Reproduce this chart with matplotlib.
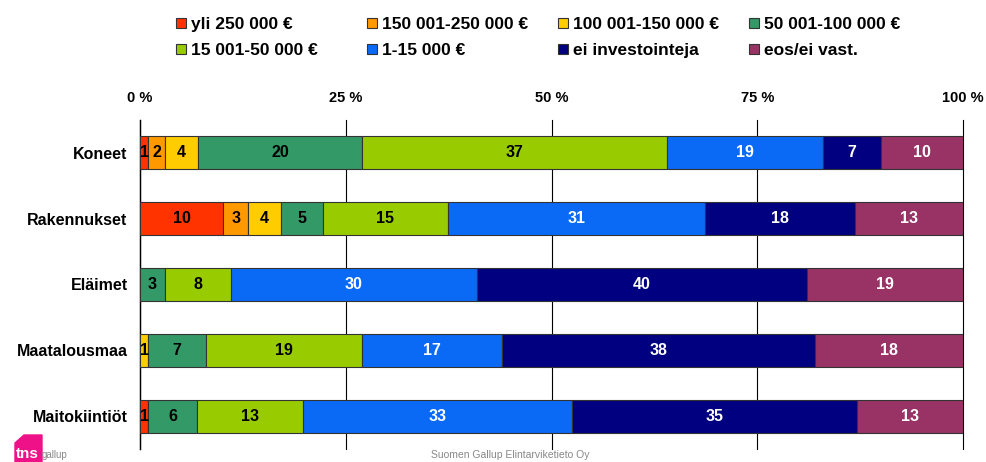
import numpy as np
import matplotlib
matplotlib.use('Agg')
import matplotlib.pyplot as plt
from matplotlib.patches import Rectangle, Polygon

plt.rcParams['font.family'] = ['Liberation Sans', 'DejaVu Sans']

# categories (top to bottom)
categories = ['Koneet', 'Rakennukset', 'Eläimet', 'Maatalousmaa', 'Maitokiintiöt']

# series
series = ['yli 250 000 €', '150 001-250 000 €', '100 001-150 000 €', '50 001-100 000 €',
          '15 001-50 000 €', '1-15 000 €', 'ei investointeja', 'eos/ei vast.']
colors = ['#FF3300', '#FF9900', '#FFCC00', '#339966',
          '#99CC00', '#0A6AF5', '#000080', '#993366']
text_colors = ['black'] * 5 + ['white'] * 3

# values per category, in series order (0 = not shown)
koneet = [1, 2, 4, 20, 37, 19, 7, 10]
rakennukset = [10, 3, 4, 5, 15, 31, 18, 13]
elaimet = [0, 0, 0, 3, 8, 30, 40, 19]
maatalousmaa = [0, 0, 1, 7, 19, 17, 38, 18]
maitokiintiot = [1, 0, 0, 6, 13, 33, 35, 13]

values = np.array([koneet, rakennukset, elaimet, maatalousmaa, maitokiintiot], dtype=float)
# 100 % stacked: scale each row to 100
shares = values / values.sum(axis=1, keepdims=True) * 100

W, H = 987, 462
fig = plt.figure(figsize=(W / 100, H / 100), dpi=100)
ax = fig.add_axes([140 / W, 1 - 449 / H, 823 / W, 329 / H])

y = np.arange(len(categories))
left = np.zeros(len(categories))
for j, name in enumerate(series):
    w = shares[:, j]
    ax.barh(y, w, left=left, height=0.5, color=colors[j], edgecolor='#333333',
            linewidth=0.8, label=name, zorder=3)
    for i in range(len(categories)):
        if values[i, j] > 0:
            ax.text(left[i] + w[i] / 2, y[i], '%d' % values[i, j], ha='center', va='center',
                    fontsize=11.5, fontweight='bold', color=text_colors[j], zorder=4)
    left += w

ax.set_xlim(0, 100)
ax.set_ylim(len(categories) - 0.5, -0.5)
ax.set_xticks([0, 25, 50, 75, 100])
ax.set_xticklabels(['0 %', '25 %', '50 %', '75 %', '100 %'], fontsize=10.5, fontweight='bold')
ax.xaxis.tick_top()
ax.tick_params(axis='x', length=0, pad=11)
ax.set_yticks(y)
ax.set_yticklabels(categories, fontsize=11.5, fontweight='bold')
ax.tick_params(axis='y', length=0, pad=9)
ax.grid(axis='x', color='black', linewidth=0.8, zorder=0)
for gl in ax.get_xgridlines():
    gl.set_clip_on(False)
for s in ['top', 'right', 'bottom']:
    ax.spines[s].set_visible(False)
ax.spines['left'].set_linewidth(1.0)

# legend, 4 columns x 2 rows
for k, name in enumerate(series):
    col, row = k % 4, k // 4
    x0 = 176 + 191 * col
    yc = 23 + 26 * row
    fig.patches.append(Rectangle((x0 / W, 1 - (yc + 5) / H), 10 / W, 10 / H,
                                 transform=fig.transFigure, facecolor=colors[k],
                                 edgecolor='#333333', linewidth=0.8))
    fig.text((x0 + 15) / W, 1 - (yc + 6) / H, name, ha='left', va='baseline',
             fontsize=12.5, fontweight='bold')

# footer
fig.text(510 / W, 2 / H, 'Suomen Gallup Elintarviketieto Oy', ha='center', va='bottom',
         fontsize=7.5, color='#888888')
fig.patches.append(Polygon([(15 / W, 0), (42 / W, 0), (42 / W, 27 / H), (24 / W, 27 / H),
                            (15 / W, 19 / H)], closed=True, transform=fig.transFigure,
                           color='#EE1188', zorder=1))
fig.text(16 / W, 1 / H, 'tns', fontsize=11, fontweight='bold', color='white', va='bottom')
fig.text(42 / W, 2 / H, 'gallup', fontsize=7, color='#888888', va='bottom')

fig.savefig('out.png', dpi=100)
